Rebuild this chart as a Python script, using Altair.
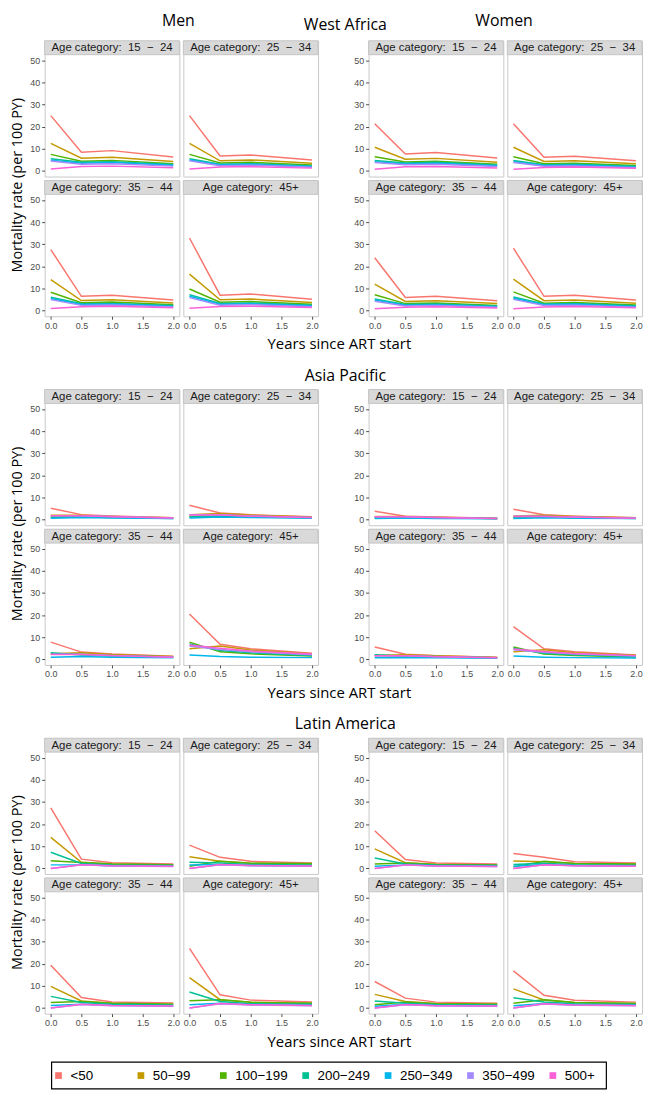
import altair as alt
import pandas as pd

# ---------------- data ----------------
YEARS = [0.0, 0.5, 1.0, 2.0]
CD4 = ["<50", "50\u221299", "100\u2212199", "200\u2212249", "250\u2212349", "350\u2212499", "500+"]
COLORS = ["#F8766D", "#C49A00", "#53B400", "#00C094", "#00B6EB", "#A58AFF", "#FB61D7"]
AGES = ["15\u00a0\u00a0\u2212\u00a0\u00a024", "25\u00a0\u00a0\u2212\u00a0\u00a034",
        "35\u00a0\u00a0\u2212\u00a0\u00a044", "45+"]
REGIONS = ["West Africa", "Asia Pacific", "Latin America"]
SEXES = ["Men", "Women"]
X_TICKS = [0.0, 0.5, 1.0, 1.5, 2.0]
Y_TICKS = [0, 10, 20, 30, 40, 50]

# rows = CD4 categories, columns = YEARS
WA_MEN_15_24 = [[25.0, 8.5, 9.2, 6.3], [12.5, 5.8, 6.2, 4.3], [7.5, 4.4, 4.8, 3.3], [5.5, 3.9, 4.2, 2.9],
                [4.9, 3.5, 3.8, 2.6], [4.5, 3.0, 3.3, 2.2], [0.9, 2.0, 2.2, 1.5]]
WA_MEN_25_34 = [[25.0, 6.8, 7.2, 5.0], [12.5, 4.6, 5.0, 3.5], [7.5, 3.6, 3.9, 2.7], [5.5, 3.1, 3.3, 2.3],
                [5.0, 2.8, 3.0, 2.0], [4.6, 2.4, 2.6, 1.7], [0.9, 1.8, 2.0, 1.3]]
WA_MEN_35_44 = [[27.6, 6.5, 7.0, 4.8], [14.0, 4.6, 4.9, 3.5], [8.3, 3.6, 3.9, 2.7], [6.1, 3.1, 3.3, 2.3],
                [5.5, 2.8, 3.0, 2.0], [5.0, 2.4, 2.6, 1.7], [1.0, 1.8, 2.0, 1.3]]
WA_MEN_45P = [[32.8, 7.0, 7.5, 5.2], [16.5, 4.9, 5.3, 3.7], [9.8, 3.8, 4.1, 2.9], [7.2, 3.3, 3.5, 2.5],
              [6.5, 2.9, 3.1, 2.2], [5.9, 2.5, 2.7, 1.8], [1.1, 1.9, 2.0, 1.4]]
WA_WOMEN_15_24 = [[21.3, 7.7, 8.4, 5.9], [10.7, 5.3, 5.7, 4.0], [6.4, 4.1, 4.4, 3.0], [4.7, 3.6, 3.9, 2.7],
                  [4.2, 3.2, 3.5, 2.4], [3.8, 2.8, 3.0, 2.0], [0.8, 1.9, 2.0, 1.4]]
WA_WOMEN_25_34 = [[21.3, 6.2, 6.7, 4.6], [10.7, 4.3, 4.6, 3.3], [6.4, 3.3, 3.5, 2.5], [4.7, 2.8, 3.0, 2.1],
                  [4.2, 2.5, 2.7, 1.8], [3.8, 2.1, 2.3, 1.5], [0.8, 1.6, 1.8, 1.2]]
WA_WOMEN_35_44 = [[23.9, 6.0, 6.5, 4.5], [12.0, 4.2, 4.5, 3.2], [7.2, 3.2, 3.5, 2.4], [5.3, 2.8, 3.0, 2.1],
                  [4.8, 2.5, 2.7, 1.8], [4.3, 2.1, 2.3, 1.5], [0.9, 1.6, 1.8, 1.2]]
WA_WOMEN_45P = [[28.2, 6.5, 7.0, 4.8], [14.2, 4.5, 4.8, 3.4], [8.5, 3.4, 3.7, 2.6], [6.2, 3.0, 3.2, 2.2],
                [5.6, 2.7, 2.9, 1.9], [5.1, 2.3, 2.5, 1.6], [0.9, 1.7, 1.9, 1.3]]

AP_MEN_15_24 = [[5.2, 2.3, 1.7, 0.9], [2.0, 2.0, 1.5, 0.9], [1.2, 1.5, 1.2, 0.7], [1.0, 1.3, 1.0, 0.6],
                [0.7, 1.0, 0.8, 0.5], [1.8, 1.8, 1.4, 0.8], [1.8, 1.8, 1.3, 0.8]]
AP_MEN_25_34 = [[6.5, 3.0, 2.2, 1.3], [2.3, 2.8, 2.1, 1.2], [1.4, 2.0, 1.6, 1.0], [1.2, 1.7, 1.4, 0.9],
                [0.8, 1.2, 1.0, 0.7], [2.2, 2.2, 1.7, 1.0], [2.1, 2.1, 1.6, 1.0]]
AP_MEN_35_44 = [[7.8, 3.3, 2.4, 1.4], [2.5, 3.0, 2.2, 1.3], [2.5, 2.3, 1.8, 1.1], [3.0, 2.0, 1.5, 1.0],
                [1.0, 1.3, 1.0, 0.7], [2.3, 2.3, 1.8, 1.1], [2.2, 2.2, 1.7, 1.0]]
AP_MEN_45P = [[20.5, 6.8, 4.8, 2.8], [4.8, 6.0, 4.2, 2.6], [7.8, 3.4, 2.5, 1.5], [7.0, 4.0, 3.0, 1.8],
              [2.0, 1.3, 1.0, 0.8], [6.0, 4.5, 3.4, 2.1], [6.5, 5.0, 3.8, 2.4]]
AP_WOMEN_15_24 = [[3.8, 1.6, 1.2, 0.7], [1.4, 1.4, 1.1, 0.6], [1.0, 1.1, 0.9, 0.5], [0.8, 1.0, 0.8, 0.5],
                  [0.5, 0.8, 0.6, 0.4], [1.3, 1.3, 1.0, 0.6], [1.3, 1.3, 1.0, 0.6]]
AP_WOMEN_25_34 = [[4.7, 2.2, 1.6, 0.9], [1.7, 2.0, 1.5, 0.9], [1.1, 1.5, 1.2, 0.7], [0.9, 1.2, 1.0, 0.6],
                  [0.6, 0.9, 0.7, 0.5], [1.6, 1.6, 1.2, 0.7], [1.5, 1.5, 1.2, 0.7]]
AP_WOMEN_35_44 = [[5.6, 2.3, 1.7, 1.0], [1.8, 2.1, 1.6, 0.9], [1.8, 1.6, 1.3, 0.8], [2.1, 1.4, 1.1, 0.7],
                  [0.7, 0.9, 0.7, 0.5], [1.6, 1.6, 1.3, 0.8], [1.6, 1.6, 1.2, 0.7]]
AP_WOMEN_45P = [[14.8, 4.8, 3.4, 2.0], [3.4, 4.3, 3.0, 1.9], [5.6, 2.4, 1.8, 1.1], [5.0, 2.8, 2.1, 1.3],
                [1.5, 1.0, 0.8, 0.6], [4.3, 3.2, 2.4, 1.5], [4.7, 3.6, 2.7, 1.7]]

LA_MEN_15_24 = [[27.3, 4.2, 2.6, 2.0], [14.0, 2.8, 2.0, 1.6], [3.5, 2.7, 2.0, 1.7], [7.3, 2.2, 1.6, 1.3],
                [1.6, 1.6, 1.2, 1.0], [0.0, 1.6, 1.1, 0.9], [0.0, 1.7, 1.2, 1.0]]
LA_MEN_25_34 = [[10.5, 5.0, 3.2, 2.5], [5.3, 3.2, 2.3, 2.0], [1.0, 3.2, 2.3, 2.2], [2.8, 2.4, 1.8, 1.5],
                [1.5, 1.8, 1.3, 1.1], [0.0, 1.7, 1.2, 1.0], [0.0, 1.8, 1.3, 1.1]]
LA_MEN_35_44 = [[19.3, 4.8, 2.8, 2.3], [9.8, 3.2, 2.2, 1.8], [2.5, 3.0, 2.2, 1.8], [5.3, 2.5, 1.7, 1.4],
                [1.2, 1.8, 1.3, 1.0], [0.0, 1.6, 1.1, 0.9], [0.0, 1.7, 1.2, 1.0]]
LA_MEN_45P = [[27.0, 6.0, 3.6, 2.8], [13.8, 3.8, 2.6, 2.2], [3.3, 3.8, 2.6, 2.2], [7.3, 3.0, 2.0, 1.7],
              [1.5, 2.2, 1.6, 1.3], [0.0, 2.0, 1.4, 1.1], [0.0, 2.1, 1.5, 1.2]]
LA_WOMEN_15_24 = [[17.0, 4.0, 2.5, 2.0], [8.8, 2.6, 1.9, 1.6], [2.0, 2.4, 1.8, 1.6], [4.7, 2.0, 1.5, 1.3],
                  [1.0, 1.6, 1.2, 1.0], [0.0, 1.5, 1.1, 0.9], [0.0, 1.6, 1.1, 0.9]]
LA_WOMEN_25_34 = [[6.7, 5.0, 3.0, 2.4], [3.4, 3.0, 2.2, 1.9], [0.7, 3.2, 2.2, 2.0], [1.8, 2.3, 1.7, 1.4],
                  [1.0, 1.8, 1.3, 1.1], [0.0, 1.6, 1.2, 1.0], [0.0, 1.7, 1.2, 1.0]]
LA_WOMEN_35_44 = [[12.0, 4.5, 2.7, 2.2], [6.2, 3.0, 2.1, 1.8], [1.5, 2.8, 2.0, 1.7], [3.2, 2.2, 1.6, 1.4],
                  [0.8, 1.7, 1.2, 1.0], [0.0, 1.5, 1.1, 0.9], [0.0, 1.6, 1.1, 0.9]]
LA_WOMEN_45P = [[16.8, 5.8, 3.5, 2.7], [8.7, 3.7, 2.5, 2.1], [2.2, 3.8, 2.5, 2.1], [4.7, 2.8, 2.0, 1.6],
                [1.1, 2.1, 1.5, 1.3], [0.0, 1.9, 1.3, 1.1], [0.0, 2.0, 1.4, 1.2]]

TABLES = {
    ("West Africa", "Men"): [WA_MEN_15_24, WA_MEN_25_34, WA_MEN_35_44, WA_MEN_45P],
    ("West Africa", "Women"): [WA_WOMEN_15_24, WA_WOMEN_25_34, WA_WOMEN_35_44, WA_WOMEN_45P],
    ("Asia Pacific", "Men"): [AP_MEN_15_24, AP_MEN_25_34, AP_MEN_35_44, AP_MEN_45P],
    ("Asia Pacific", "Women"): [AP_WOMEN_15_24, AP_WOMEN_25_34, AP_WOMEN_35_44, AP_WOMEN_45P],
    ("Latin America", "Men"): [LA_MEN_15_24, LA_MEN_25_34, LA_MEN_35_44, LA_MEN_45P],
    ("Latin America", "Women"): [LA_WOMEN_15_24, LA_WOMEN_25_34, LA_WOMEN_35_44, LA_WOMEN_45P],
}

# ---------------- layout constants ----------------
W = 136          # panel width
HDR = 14         # strip height
PLOT_H = 123     # data area height
H = HDR + PLOT_H
Y_LO, Y_HI = -2.5, 52.5
Y_TOP = Y_HI + HDR * (Y_HI - Y_LO) / PLOT_H
TFONT = "Open Sans"
AFONT = "Liberation Sans"
COLOR_SCALE = alt.Scale(domain=CD4, range=COLORS)


def panel_df(region, sex, ai):
    rows = []
    tab = TABLES[(region, sex)][ai]
    for ci, cat in enumerate(CD4):
        for xi, yr in enumerate(YEARS):
            rows.append({"cd4": cat, "year": yr, "rate": tab[ci][xi]})
    return pd.DataFrame(rows)


def panel(region, sex, ai, left, bottom):
    df = panel_df(region, sex, ai)
    axis_common = dict(title=None, grid=False, domain=False, labelFont=AFONT, labelFontSize=9,
                       labelColor="#4D4D4D", tickColor="#4D4D4D", tickSize=3, labelPadding=2)
    xaxis = alt.Axis(values=X_TICKS, format=".1f", labelFlush=False, **axis_common) if bottom else None
    yaxis = alt.Axis(values=Y_TICKS, labelFlush=False, **axis_common) if left else None
    lines = alt.Chart(df).mark_line(strokeWidth=1.5).encode(
        x=alt.X("year:Q", scale=alt.Scale(domain=[-0.1, 2.1], nice=False, zero=False), axis=xaxis),
        y=alt.Y("rate:Q", scale=alt.Scale(domain=[Y_LO, Y_TOP], nice=False, zero=False), axis=yaxis),
        color=alt.Color("cd4:N", scale=COLOR_SCALE, legend=None),
        detail="cd4:N",
    )
    hdr_df = pd.DataFrame({"label": ["Age category:\u00a0\u00a0" + AGES[ai]]})
    rect = alt.Chart(hdr_df).mark_rect(fill="#D9D9D9", stroke="#C4C4C4", strokeWidth=1).encode(
        x=alt.value(0), x2=alt.value(W), y=alt.value(0), y2=alt.value(HDR))
    text = alt.Chart(hdr_df).mark_text(font=AFONT, fontSize=11.5, color="#1A1A1A", baseline="middle",
                                       align="center").encode(
        x=alt.value(W / 2), y=alt.value(HDR / 2 + 0.5), text="label:N")
    return alt.layer(lines, rect, text).properties(width=W, height=H)


def sexgrid(region, sex):
    r1 = alt.hconcat(panel(region, sex, 0, True, False), panel(region, sex, 1, False, False), spacing=2)
    r2 = alt.hconcat(panel(region, sex, 2, True, True), panel(region, sex, 3, False, True), spacing=2)
    return alt.vconcat(r1, r2, spacing=2)


def block(region, first):
    men = sexgrid(region, "Men").properties(
        title=alt.TitleParams("Mortality rate (per 100 PY)", orient="left", anchor="middle", font=TFONT,
                              fontSize=14.5, fontWeight="normal", color="#000000", offset=4))
    women = sexgrid(region, "Women")
    if first:
        men = alt.vconcat(men).properties(
            title=alt.TitleParams("Men", anchor="middle", font=TFONT, fontSize=16, fontWeight="normal",
                                  color="#000000", offset=11, dx=14))
        women = alt.vconcat(women).properties(
            title=alt.TitleParams("Women", anchor="middle", font=TFONT, fontSize=16, fontWeight="normal",
                                  color="#000000", offset=11, dx=6))
    pair = alt.hconcat(men, women, spacing=34).properties(
        title=alt.TitleParams(region, anchor="middle", font=TFONT, fontSize=16, fontWeight="normal",
                              color="#000000", offset=(-20 if first else 5), dx=19))
    return alt.vconcat(pair).properties(
        title=alt.TitleParams("Years since ART start", orient="bottom", anchor="middle", font=TFONT,
                              fontSize=15, fontWeight="normal", color="#000000", offset=7, dx=13))


# legend drawn as its own small chart through an ordinal point scale
LEG_W, LEG_H = 604, 27
LEG_L, LEG_R = 7, 567
leg_df = pd.DataFrame({"cd4": CD4})
leg_x = alt.X("cd4:N", scale=alt.Scale(type="point", domain=CD4, range=[14, 513], padding=0), axis=None)
leg_box = alt.Chart(pd.DataFrame({"b": [0]})).mark_rect(fill="#FFFFFF", fillOpacity=0, stroke="#000000",
                                                         strokeWidth=1.2).encode(
    x=alt.value(LEG_L), x2=alt.value(LEG_R), y=alt.value(0), y2=alt.value(LEG_H))
leg_sq = alt.Chart(leg_df).mark_square(size=46, opacity=1).encode(
    x=leg_x, y=alt.value(LEG_H / 2), color=alt.Color("cd4:N", scale=COLOR_SCALE, legend=None))
leg_tx = alt.Chart(leg_df).mark_text(align="left", baseline="middle", dx=12, font=AFONT, fontSize=13.5,
                                     color="#000000").encode(
    x=leg_x, y=alt.value(LEG_H / 2 + 0.5), text="cd4:N")
legend = alt.layer(leg_box, leg_sq, leg_tx).properties(
    width=LEG_W, height=LEG_H, view=alt.ViewBackground(stroke="transparent"))

regions = alt.vconcat(block(REGIONS[0], True), block(REGIONS[1], False), block(REGIONS[2], False),
                      spacing=15)
chart = alt.vconcat(regions, legend, spacing=10).properties(
    padding={"left": 1, "top": 0, "right": 0, "bottom": 0}).configure_view(
    stroke="#C8C8C8", strokeWidth=1).configure_title(font=TFONT)

chart.save("out.html", embed_options={"renderer": "svg", "actions": False})
